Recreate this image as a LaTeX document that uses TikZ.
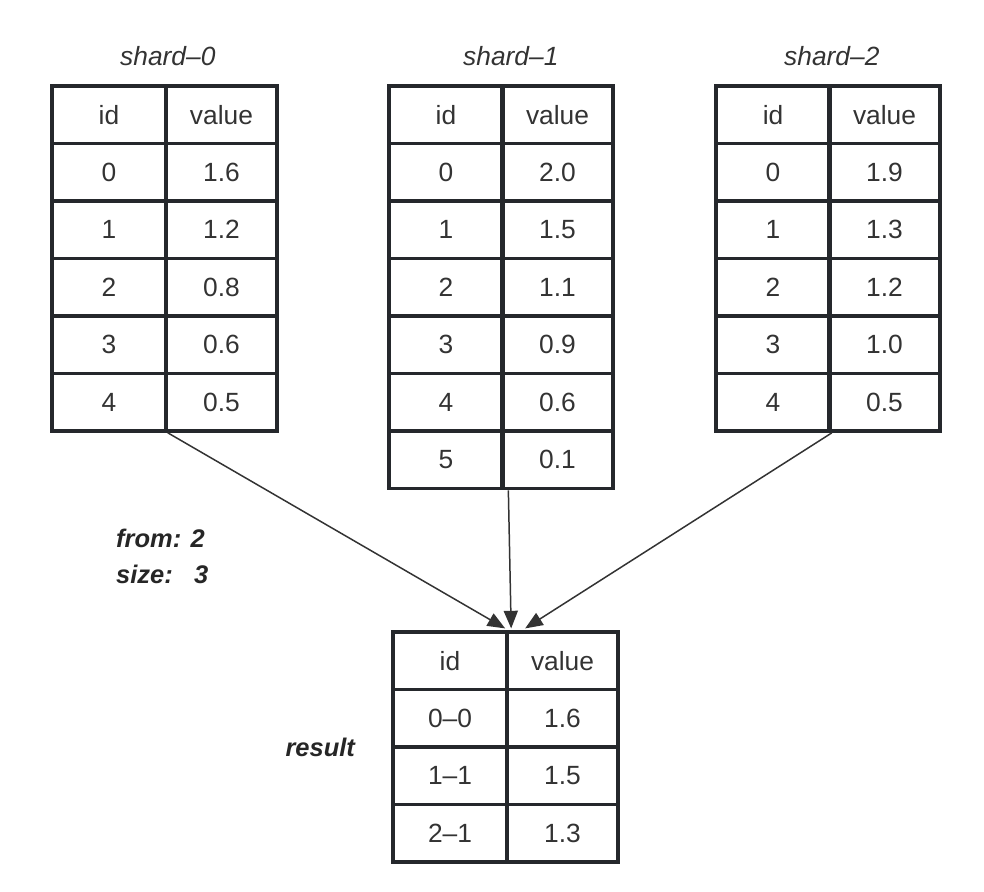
\documentclass[tikz,border=0pt]{standalone}
\usepackage{fontspec}
\setmainfont{Liberation Sans}
\usetikzlibrary{arrows.meta,calc}
\definecolor{gridline}{HTML}{25282C}
\definecolor{txt}{HTML}{333333}
\tikzset{
 cell/.style={draw=gridline,line width=2.1pt,minimum height=1.15cm,inner sep=0pt,
   text=txt,font=\fontsize{15}{18}\selectfont},
 idcell/.style={cell,minimum width=2.28cm},
 valcell/.style={cell,minimum width=2.22cm},
 lbl/.style={text=txt,font=\fontsize{15}{18}\selectfont\itshape},
 note/.style={text=black!85,font=\fontsize{14.5}{17}\selectfont\bfseries\itshape},
 arr/.style={-{Triangle[length=10pt,width=8pt]},draw=txt,line width=.85pt}
}
\begin{document}
\begin{tikzpicture}[x=.02cm,y=-.02cm]
 \useasboundingbox (0,0) rectangle (984,892);
 % shard-0
 \foreach \a/\b [count=\r from 0] in {id/value,0/1.6,1/1.2,2/0.8,3/0.6,4/0.5}{
   \node[idcell] (s0-\r-a) at (109,{114.75+57.5*\r}) {\a};
   \node[valcell] (s0-\r-b) at (221.5,{114.75+57.5*\r}) {\b};}
 % shard-1
 \foreach \a/\b [count=\r from 0] in {id/value,0/2.0,1/1.5,2/1.1,3/0.9,4/0.6,5/0.1}{
   \node[idcell] (s1-\r-a) at (446,{114.75+57.5*\r}) {\a};
   \node[valcell] (s1-\r-b) at (557.5,{114.75+57.5*\r}) {\b};}
 % shard-2
 \foreach \a/\b [count=\r from 0] in {id/value,0/1.9,1/1.3,2/1.2,3/1.0,4/0.5}{
   \node[idcell] (s2-\r-a) at (773,{114.75+57.5*\r}) {\a};
   \node[valcell] (s2-\r-b) at (884.5,{114.75+57.5*\r}) {\b};}
 % result
 \foreach \a/\b [count=\r from 0] in {id/value,0--0/1.6,1--1/1.5,2--1/1.3}{
   \node[idcell] (r-\r-a) at (450,{660.75+57.5*\r}) {\a};
   \node[valcell] (r-\r-b) at (562.5,{660.75+57.5*\r}) {\b};}
 % labels
 \node[lbl,anchor=base] (t0) at ($(s0-0-a.north east)+(0,-19)$) {shard--0};
 \node[lbl,anchor=base] (t1) at ($(s1-0-a.north east)+(6,-19)$) {shard--1};
 \node[lbl,anchor=base] (t2) at ($(s2-0-a.north east)+(0,-19)$) {shard--2};
 \node[note,anchor=base west] (from) at (110,547) {from: 2};
 \node[note,anchor=base west] (size) at (110,583) {size:\ \ \ 3};
 \node[note,anchor=base east] (res) at ($(r-1-a.south west)+(-30,8)$) {result};
 % arrows
 \draw[arr] (s0-5-a.south east) -- ([yshift=1pt]r-0-b.north west);
 \draw[arr] ([xshift=2pt]s1-6-a.south east) -- ([shift={(.12cm,1pt)}]r-0-b.north west);
 \draw[arr] (s2-5-a.south east) -- ([shift={(.4cm,1pt)}]r-0-b.north west);
\end{tikzpicture}
\end{document}
